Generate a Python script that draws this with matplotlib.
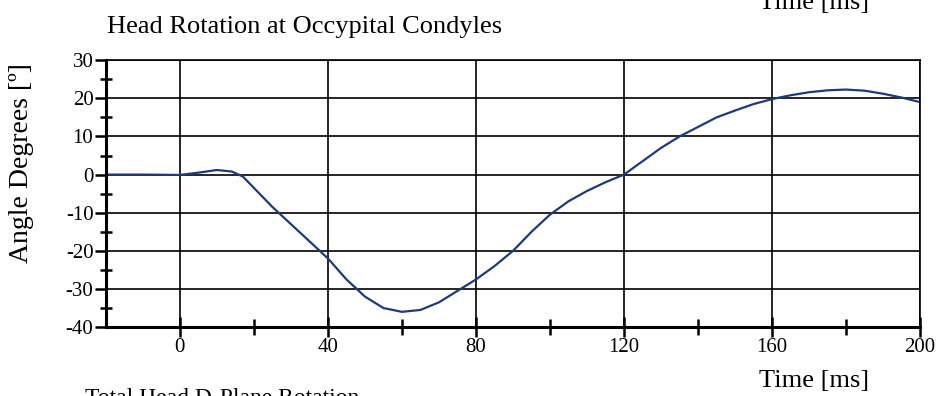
import matplotlib.pyplot as plt
import numpy as np

plt.rcParams['font.family'] = ['Liberation Serif', 'DejaVu Serif']
plt.rcParams['axes.unicode_minus'] = False

time_ms = [-20, -10, 0, 5, 10, 14, 17, 20, 25, 30, 35, 40, 45, 50, 55, 60, 65, 70, 75,
           80, 85, 90, 95, 100, 105, 110, 115, 120, 125, 130, 135, 140, 145, 150, 155,
           160, 165, 170, 175, 180, 185, 190, 195, 200]
angle_deg = [0.0, 0.0, -0.1, 0.5, 1.2, 0.8, -0.5, -3.5, -8.5, -13.0, -17.5, -22.0, -27.5,
             -32.0, -35.0, -36.0, -35.5, -33.5, -30.5, -27.5, -24.0, -20.0, -15.0, -10.5,
             -7.0, -4.3, -2.0, 0.0, 3.5, 7.0, 10.0, 12.5, 15.0, 16.8, 18.5, 19.8, 20.8,
             21.6, 22.1, 22.3, 22.0, 21.2, 20.2, 19.0]

x_major = [0, 40, 80, 120, 160, 200]
x_minor = [20, 60, 100, 140, 180]
y_major = [-40, -30, -20, -10, 0, 10, 20, 30]
y_minor = [-35, -25, -15, -5, 5, 15, 25]

fig = plt.figure(figsize=(9.37, 3.96), dpi=100)
ax = fig.add_axes([0.113, 0.174, 0.869, 0.674])

ax.plot(time_ms, angle_deg, color='#1f3a7a', lw=1.6)

ax.set_xlim(-20, 200)
ax.set_ylim(-40, 30)
ax.set_xticks(x_major)
ax.set_xticks(x_minor, minor=True)
ax.set_yticks(y_major)
ax.set_yticks(y_minor, minor=True)
ax.grid(True, which='major', color='black', lw=1.2)

for s in ['top', 'right']:
    ax.spines[s].set_linewidth(1.2)
for s in ['left', 'bottom']:
    ax.spines[s].set_linewidth(2.2)

ax.tick_params(axis='x', which='major', direction='inout', length=14, width=1.8,
               labelsize=15, pad=1)
ax.tick_params(axis='x', which='minor', direction='inout', length=12, width=1.8)
ax.tick_params(axis='y', which='major', direction='out', length=8, width=1.8,
               labelsize=15, pad=1)
ax.tick_params(axis='y', which='minor', direction='inout', length=8, width=1.8)

fig.text(0.023, 0.588, 'Angle Degrees [º]', fontsize=20, rotation=90,
         ha='center', va='center')
fig.text(0.114, 0.917, 'Head Rotation at Occypital Condyles', fontsize=19)
fig.text(0.928, 0.023, 'Time [ms]', fontsize=19, ha='right', va='baseline')
fig.text(0.928, 0.978, 'Time [ms]', fontsize=19, ha='right', va='baseline')
fig.text(0.091, -0.02, 'Total Head D-Plane Rotation', fontsize=17, va='baseline')

fig.savefig('out.png', dpi=100)
